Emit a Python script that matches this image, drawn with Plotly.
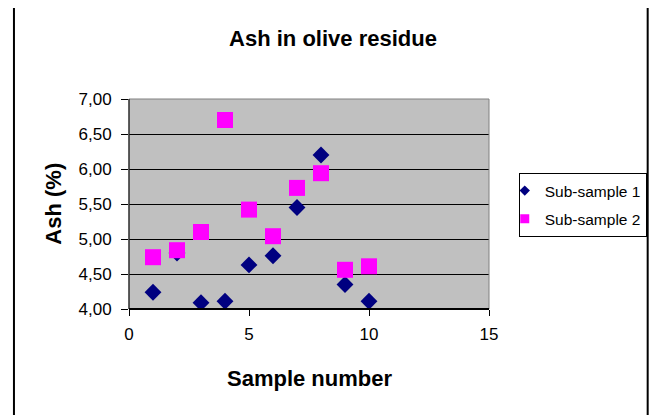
import plotly.graph_objects as go

samples = [1, 2, 3, 4, 5, 6, 7, 8, 9, 10]
sub_sample_1 = [4.24, 4.80, 4.09, 4.11, 4.63, 4.76, 5.45, 6.20, 4.35, 4.11]
sub_sample_2 = [4.74, 4.84, 5.10, 6.70, 5.42, 5.04, 5.73, 5.94, 4.56, 4.61]
series_names = ["Sub-sample 1", "Sub-sample 2"]
x_ticks = [0, 5, 10, 15]

# page has an 8px body margin, so the figure is laid out in page pixels minus 8
OFF = 8
W, H = 659 - OFF, 415 - OFF
L, R, T, B = 129 - OFF, 492 - OFF, 99 - OFF, 309 - OFF  # plot area pixels (figure coords)
pw, ph = R - L, B - T

def px(x_page):
    return (x_page - OFF - L) / pw

def py(y_page):
    return (B - (y_page - OFF)) / ph

fig = go.Figure()
fig.add_trace(go.Scatter(x=samples, y=sub_sample_1, mode="markers", name=series_names[0],
                         showlegend=False,
                         marker=dict(symbol="diamond", size=13, color="#000080",
                                     line=dict(width=0))))
fig.add_trace(go.Scatter(x=samples, y=sub_sample_2, mode="markers", name=series_names[1],
                         showlegend=False,
                         marker=dict(symbol="square", size=16, color="#FF00FF",
                                     line=dict(width=0))))
# legend entries with smaller symbols, as in the reference
fig.add_trace(go.Scatter(x=[None], y=[None], mode="markers", name=series_names[0],
                         legendgroup="a",
                         marker=dict(symbol="diamond", size=8, color="#000080",
                                     line=dict(width=0))))
fig.add_trace(go.Scatter(x=[None], y=[None], mode="markers", name=series_names[1],
                         legendgroup="b",
                         marker=dict(symbol="square", size=9, color="#FF00FF",
                                     line=dict(width=0))))

font = "Liberation Sans, Arial, sans-serif"

fig.update_layout(
    width=W, height=H,
    margin=dict(l=L, r=W - R, t=T, b=H - B, pad=0),
    paper_bgcolor="white", plot_bgcolor="#C0C0C0",
    separators=", ",
    font=dict(family=font, size=17, color="black"),
    title=dict(text="<b>Ash in olive residue</b>", x=(333 - OFF) / W, xanchor="center",
               y=1 - (38 - OFF) / H, yanchor="middle", font=dict(size=22, family=font)),
    showlegend=True,
    legend=dict(x=px(522), y=py(173), xanchor="left", yanchor="top",
                borderwidth=1, bordercolor="black", bgcolor="white",
                font=dict(size=15.5, family=font), itemwidth=30,
                indentation=-15, tracegroupgap=5),
    xaxis=dict(range=[0, 15], tickvals=x_ticks, ticks="outside", ticklen=6,
               tickcolor="black", showgrid=False, zeroline=False, showline=False,
               tickfont=dict(size=17), ticklabelstandoff=4),
    yaxis=dict(range=[4, 7], dtick=0.5, tickformat=".2f", ticks="outside", ticklen=7,
               tickcolor="black", showgrid=True, gridcolor="black", gridwidth=1,
               zeroline=False, showline=False, tickfont=dict(size=17),
               ticklabelstandoff=6),
    annotations=[
        dict(text="<b>Sample number</b>", x=0.5, y=py(378), xref="paper", yref="paper",
             xanchor="center", yanchor="middle", showarrow=False,
             font=dict(size=22, family=font)),
        dict(text="<b>Ash (%)</b>", x=px(52), y=py(204), xref="paper", yref="paper",
             xanchor="center", yanchor="middle", showarrow=False, textangle=-90,
             font=dict(size=22, family=font)),
    ],
    shapes=[
        dict(type="rect", xref="paper", yref="paper", x0=0, x1=1, y0=0, y1=1,
             line=dict(color="#808080", width=1), layer="above"),
        dict(type="line", xref="paper", yref="paper", x0=0, x1=0, y0=0, y1=1,
             line=dict(color="black", width=1), layer="above"),
        dict(type="line", xref="paper", yref="paper", x0=0, x1=1, y0=0, y1=0,
             line=dict(color="black", width=2), layer="above"),
        dict(type="rect", xref="paper", yref="paper", x0=px(13), x1=px(652),
             y0=py(430), y1=py(7), line=dict(color="black", width=2), layer="below"),
    ],
)

fig.write_html("out.html", config={"displayModeBar": False})
